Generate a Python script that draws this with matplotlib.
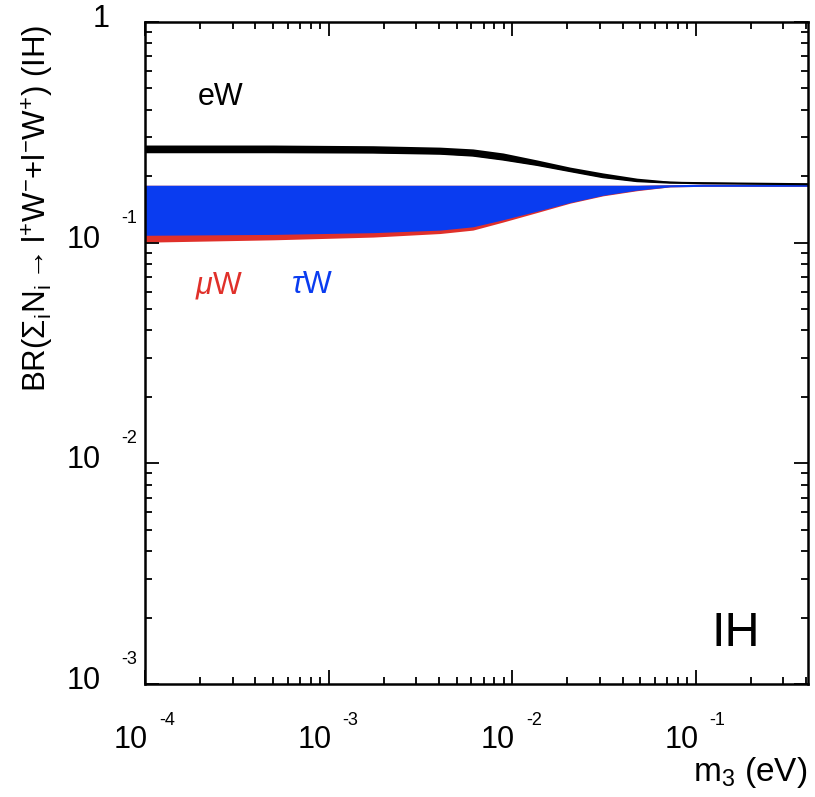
import matplotlib.pyplot as plt
import matplotlib.transforms as mtransforms
from matplotlib.ticker import LogLocator, FixedLocator, NullFormatter

plt.rcParams['font.family'] = ['Liberation Sans', 'DejaVu Sans']
plt.rcParams['mathtext.fontset'] = 'custom'
plt.rcParams['mathtext.rm'] = 'Liberation Sans'
plt.rcParams['mathtext.it'] = 'Liberation Sans:italic'
plt.rcParams['mathtext.sf'] = 'Liberation Sans'

# lightest neutrino mass (eV)
m3 = [1e-4, 5.0e-4, 1.75e-3, 4.05e-3, 6.12e-3, 8.93e-3, 0.0137, 0.0207,
      0.0313, 0.048, 0.0726, 0.110, 0.41]

# eW branching ratio band
ew_hi = [0.277, 0.277, 0.275, 0.271, 0.266, 0.255, 0.237, 0.220, 0.207, 0.196, 0.190, 0.188, 0.186]
ew_lo = [0.257, 0.257, 0.256, 0.253, 0.248, 0.238, 0.225, 0.211, 0.198, 0.190, 0.187, 0.186, 0.184]

# muW / tauW bands (common upper edge)
band_hi = [0.182, 0.182, 0.182, 0.182, 0.182, 0.182, 0.182, 0.182, 0.182, 0.182, 0.183, 0.184, 0.184]
tau_lo = [0.108, 0.109, 0.111, 0.114, 0.118, 0.127, 0.139, 0.152, 0.164, 0.173, 0.179, 0.180, 0.180]
mu_lo = [0.1005, 0.103, 0.106, 0.110, 0.114, 0.124, 0.137, 0.151, 0.163, 0.172, 0.179, 0.180, 0.180]

xticks = [1e-4, 1e-3, 1e-2, 1e-1]
xtick_exp = ['-4', '-3', '-2', '-1']
yticks = [1e-3, 1e-2, 1e-1]
ytick_exp = ['-3', '-2', '-1']

fig = plt.figure(figsize=(8.15, 7.97), dpi=100)
ax = fig.add_axes([145/815, 1 - 684/797, 663/815, 662/797])

ax.fill_between(m3, mu_lo, band_hi, color='#e0302a', lw=0)
ax.fill_between(m3, tau_lo, band_hi, color='#0a3cf0', lw=0)
ax.fill_between(m3, ew_lo, ew_hi, color='black', lw=0)
ax.plot(m3, ew_lo, color='black', lw=1.5)

ax.set_xscale('log')
ax.set_yscale('log')
ax.set_xlim(1e-4, 0.41)
ax.set_ylim(1e-3, 1)

ax.xaxis.set_major_locator(FixedLocator(xticks))
ax.yaxis.set_major_locator(FixedLocator(yticks + [1]))
ax.xaxis.set_minor_locator(LogLocator(base=10, subs=range(2, 10), numticks=20))
ax.yaxis.set_minor_locator(LogLocator(base=10, subs=range(2, 10), numticks=20))
for a in (ax.xaxis, ax.yaxis):
    a.set_major_formatter(NullFormatter())
    a.set_minor_formatter(NullFormatter())

ax.tick_params(which='both', direction='in', top=True, right=True, width=1.3)
ax.tick_params(which='major', length=10)
ax.tick_params(which='minor', length=5)
for s in ax.spines.values():
    s.set_linewidth(1.8)

# ROOT-style tick labels: "10" with the exponent set off to the upper right
xt = ax.get_xaxis_transform()
yt = ax.get_yaxis_transform()
for v, e in zip(xticks, xtick_exp):
    ax.text(v, 0, '10', fontsize=22, ha='right', va='top', clip_on=False,
            transform=mtransforms.offset_copy(xt, fig, x=3, y=-41, units='dots'))
    ax.text(v, 0, e, fontsize=13, ha='left', va='top', clip_on=False,
            transform=mtransforms.offset_copy(xt, fig, x=14, y=-28, units='dots'))
for v, e in zip(yticks, ytick_exp):
    ax.text(0, v, '10', fontsize=22, ha='right', va='center', clip_on=False,
            transform=mtransforms.offset_copy(yt, fig, x=-44, y=3, units='dots'))
    ax.text(0, v, e, fontsize=13, ha='right', va='bottom', clip_on=False,
            transform=mtransforms.offset_copy(yt, fig, x=-8, y=16, units='dots'))
ax.text(0, 1, '1', fontsize=22, ha='right', va='center', clip_on=False,
        transform=mtransforms.offset_copy(yt, fig, x=-35, y=3, units='dots'))

ax.text(0.08, 0.875, 'eW', transform=ax.transAxes, fontsize=22, color='black')
ax.text(0.075, 0.59, r'$\mu$W', transform=ax.transAxes, fontsize=22, color='#e0302a')
ax.text(0.22, 0.59, r'$\tau$W', transform=ax.transAxes, fontsize=22, color='#0a3cf0')
ax.text(0.855, 0.058, 'IH', transform=ax.transAxes, fontsize=35, color='black')

fig.text(807/815, 1 - 772/797, r'm$_{3}$ (eV)', fontsize=24, ha='right', va='center')
fig.text(38/815, 1 - 208/797,
         r'BR($\Sigma_{\rm i}$N$_{\rm i}$$\rightarrow$l$^{+}$W$^{-}$+l$^{-}$W$^{+}$) (IH)',
         fontsize=22.5, rotation=90, ha='center', va='center')

fig.savefig('out.png', dpi=100, facecolor='white')
